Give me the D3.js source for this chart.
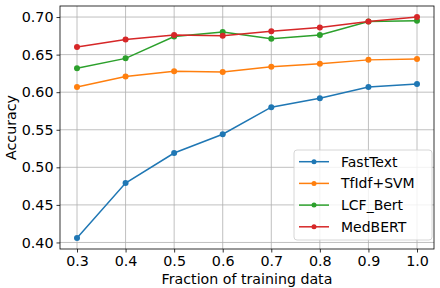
<!DOCTYPE html>
<html>
<head>
<meta charset="UTF-8">
<script src="https://d3js.org/d3.v7.min.js"></script>
<style>
  * { margin: 0; padding: 0; }
  body { background: #fff; font-family: "DejaVu Sans", sans-serif; }
</style>
</head>
<body>
<div id="chart"></div>
<script>
const fractions = [0.3, 0.4, 0.5, 0.6, 0.7, 0.8, 0.9, 1.0];
const seriesNames = ["FastText", "TfIdf+SVM", "LCF_Bert", "MedBERT"];
const fastText = [0.406, 0.479, 0.519, 0.544, 0.580, 0.592, 0.607, 0.611];
const tfidfSvm = [0.607, 0.621, 0.628, 0.627, 0.634, 0.638, 0.643, 0.644];
const lcfBert  = [0.632, 0.645, 0.674, 0.680, 0.671, 0.676, 0.694, 0.695];
const medBert  = [0.660, 0.670, 0.676, 0.675, 0.681, 0.686, 0.694, 0.700];
const yTicks = [0.40, 0.45, 0.50, 0.55, 0.60, 0.65, 0.70];
const xTicks = [0.3, 0.4, 0.5, 0.6, 0.7, 0.8, 0.9, 1.0];
const colors = ["#1f77b4", "#ff7f0e", "#2ca02c", "#d62728"];

const W = 440, H = 288;
const margin = { top: 6, right: 6, bottom: 39, left: 60 };
const width = W - margin.left - margin.right,
      height = H - margin.top - margin.bottom;

const svg = d3.select("#chart").append("svg")
    .attr("width", W).attr("height", H)
    .style("font-family", "'DejaVu Sans', sans-serif");

const g = svg.append("g").attr("transform", `translate(${margin.left},${margin.top})`);

const x = d3.scaleLinear().domain([0.265, 1.035]).range([0, width]);
const y = d3.scaleLinear().domain([0.3913, 0.7147]).range([height, 0]);

// grid
g.append("g").selectAll("line").data(xTicks).join("line")
    .attr("x1", d => x(d)).attr("x2", d => x(d))
    .attr("y1", 0).attr("y2", height)
    .attr("stroke", "#b0b0b0").attr("stroke-width", 0.8);
g.append("g").selectAll("line").data(yTicks).join("line")
    .attr("x1", 0).attr("x2", width)
    .attr("y1", d => y(d)).attr("y2", d => y(d))
    .attr("stroke", "#b0b0b0").attr("stroke-width", 0.8);

// axes
const xAxis = g.append("g")
    .attr("transform", `translate(0,${height})`)
    .call(d3.axisBottom(x).tickValues(xTicks).tickFormat(d3.format(".1f")).tickSize(3.5).tickPadding(3));
const yAxis = g.append("g")
    .call(d3.axisLeft(y).tickValues(yTicks).tickFormat(d3.format(".2f")).tickSize(3.5).tickPadding(3));
[xAxis, yAxis].forEach(a => {
    a.selectAll("text").style("font-size", "14.3px").attr("fill", "#000")
     .style("font-family", "'DejaVu Sans', sans-serif");
    a.selectAll(".domain").remove();
    a.selectAll(".tick line").attr("stroke", "#000").attr("stroke-width", 0.8);
});

// frame
g.append("rect").attr("width", width).attr("height", height)
    .attr("fill", "none").attr("stroke", "#000").attr("stroke-width", 0.8);

const allSeries = [fastText, tfidfSvm, lcfBert, medBert];
const line = d3.line().x((d, i) => x(fractions[i])).y(d => y(d));

allSeries.forEach((vals, k) => {
    g.append("path").datum(vals)
        .attr("fill", "none").attr("stroke", colors[k]).attr("stroke-width", 1.5)
        .attr("d", line);
    g.append("g").selectAll("circle").data(vals).join("circle")
        .attr("cx", (d, i) => x(fractions[i])).attr("cy", d => y(d))
        .attr("r", 3).attr("fill", colors[k]);
});

// axis labels
svg.append("text")
    .attr("x", margin.left + width / 2).attr("y", 284)
    .attr("text-anchor", "middle").style("font-size", "14.2px")
    .text("Fraction of training data");
svg.append("text")
    .attr("transform", `translate(16,${margin.top + height / 2}) rotate(-90)`)
    .attr("text-anchor", "middle").style("font-size", "14.2px")
    .text("Accuracy");

// legend
const lg = g.append("g").attr("transform", `translate(${294 - margin.left},${150 - margin.top})`);
lg.append("rect").attr("width", 138).attr("height", 90).attr("rx", 3)
    .attr("fill", "#fff").attr("fill-opacity", 0.8)
    .attr("stroke", "#cccccc").attr("stroke-width", 0.8);
seriesNames.forEach((name, k) => {
    const row = lg.append("g").attr("transform", `translate(0,${11.7 + k * 21.7})`);
    row.append("line").attr("x1", 5).attr("x2", 35)
        .attr("stroke", colors[k]).attr("stroke-width", 1.5);
    row.append("circle").attr("cx", 20).attr("r", 2.5).attr("fill", colors[k]);
    row.append("text").attr("x", 47).attr("y", 5).style("font-size", "14px").text(name);
});
</script>
</body>
</html>
